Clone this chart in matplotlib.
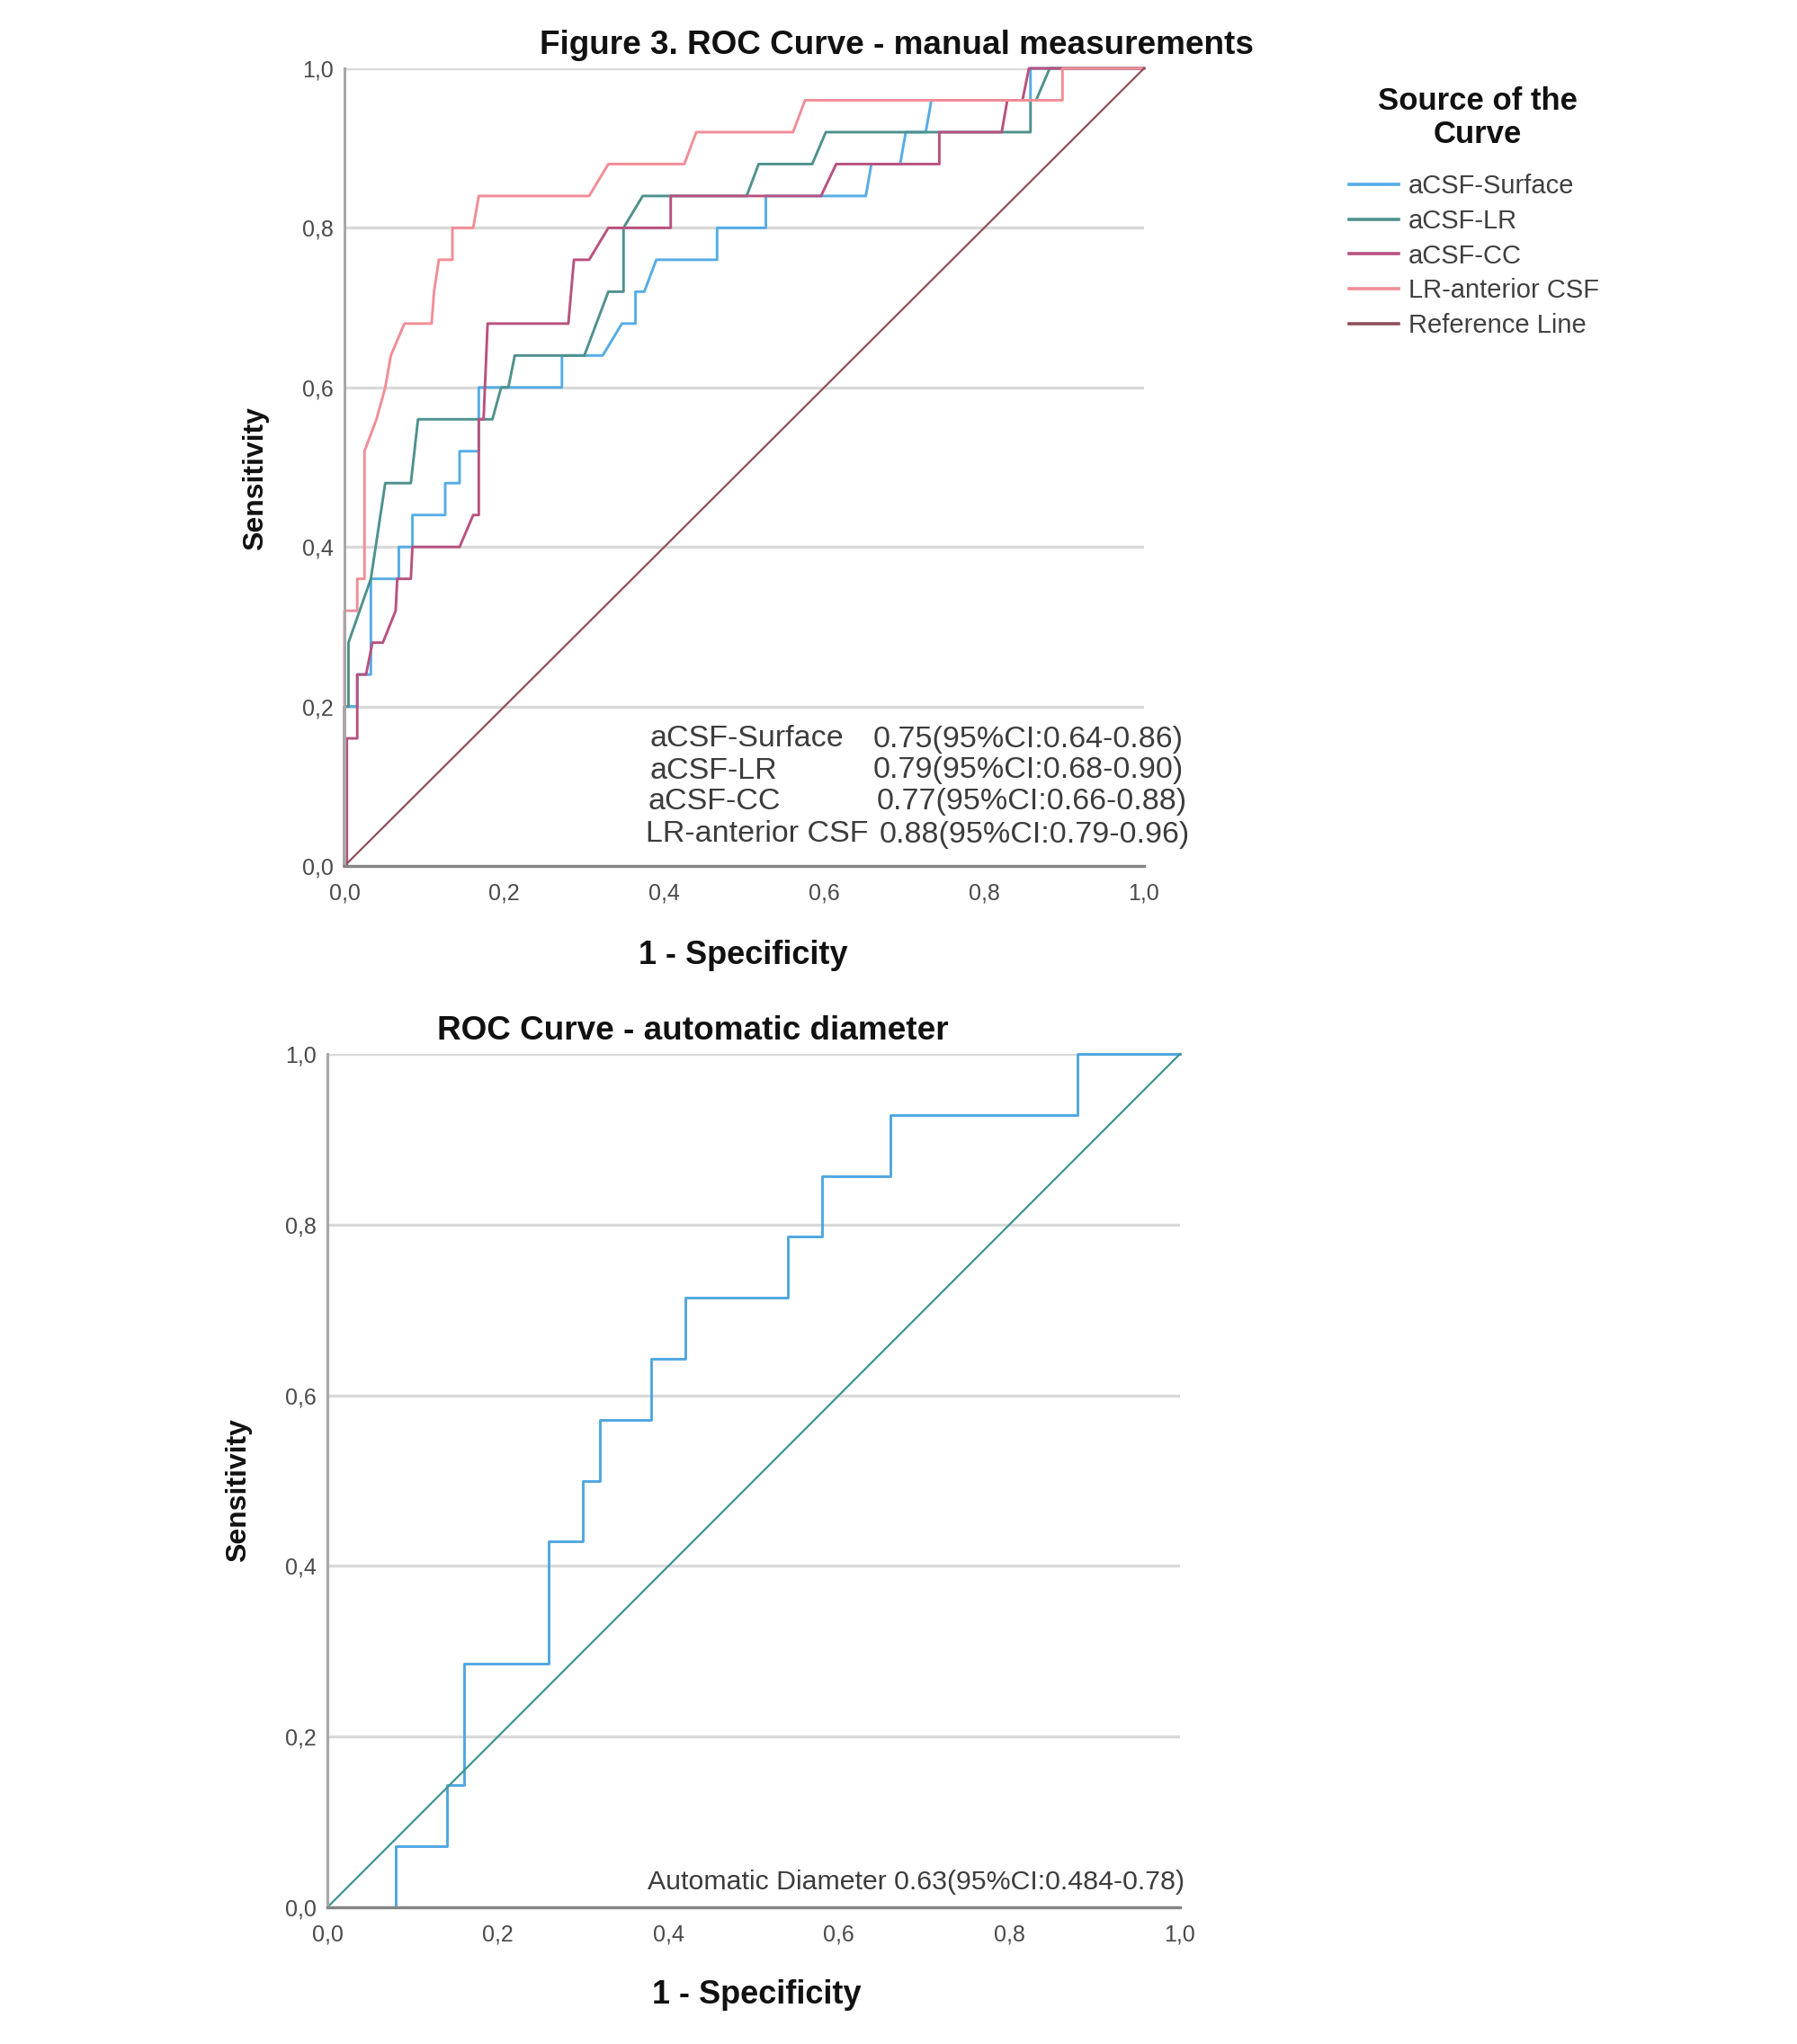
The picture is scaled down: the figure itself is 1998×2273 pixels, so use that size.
import matplotlib.pyplot as plt

W, H, DPI = 1999, 2273, 100
plt.rcParams['font.family'] = ['Liberation Sans', 'DejaVu Sans']

# ---- data ----
tick_vals = [0.0, 0.2, 0.4, 0.6, 0.8, 1.0]
tick_labels = ['0,0', '0,2', '0,4', '0,6', '0,8', '1,0']

# top panel: ROC vertices (1 - specificity, sensitivity)
surface_fpr = [0, 0, 0.016, 0.016, 0.033, 0.033, 0.068, 0.068, 0.085, 0.085, 0.126, 0.126,
               0.144, 0.144, 0.168, 0.168, 0.272, 0.272, 0.323, 0.347, 0.364, 0.364, 0.375,
               0.390, 0.466, 0.466, 0.527, 0.527, 0.652, 0.659, 0.695, 0.702, 0.727, 0.734,
               0.858, 0.858, 1.0]
surface_tpr = [0, 0.20, 0.20, 0.24, 0.24, 0.36, 0.36, 0.40, 0.40, 0.44, 0.44, 0.48,
               0.48, 0.52, 0.52, 0.60, 0.60, 0.64, 0.64, 0.68, 0.68, 0.72, 0.72,
               0.76, 0.76, 0.80, 0.80, 0.84, 0.84, 0.88, 0.88, 0.92, 0.92, 0.96,
               0.96, 1.0, 1.0]

lr_fpr = [0, 0, 0.005, 0.005, 0.033, 0.051, 0.083, 0.092, 0.185, 0.196, 0.205, 0.213, 0.300,
          0.330, 0.349, 0.349, 0.373, 0.503, 0.518, 0.585, 0.602, 0.858, 0.858, 0.865, 0.882, 1.0]
lr_tpr = [0, 0.20, 0.20, 0.28, 0.36, 0.48, 0.48, 0.56, 0.56, 0.60, 0.60, 0.64, 0.64,
          0.72, 0.72, 0.80, 0.84, 0.84, 0.88, 0.88, 0.92, 0.92, 0.96, 0.96, 1.0, 1.0]

cc_fpr = [0, 0.003, 0.003, 0.016, 0.016, 0.027, 0.035, 0.048, 0.064, 0.066, 0.083, 0.085,
          0.144, 0.161, 0.168, 0.168, 0.174, 0.179, 0.280, 0.287, 0.306, 0.330, 0.408,
          0.408, 0.596, 0.615, 0.744, 0.744, 0.822, 0.829, 0.848, 0.856, 1.0]
cc_tpr = [0, 0, 0.16, 0.16, 0.24, 0.24, 0.28, 0.28, 0.32, 0.36, 0.36, 0.40,
          0.40, 0.44, 0.44, 0.56, 0.56, 0.68, 0.68, 0.76, 0.76, 0.80, 0.80,
          0.84, 0.84, 0.88, 0.88, 0.92, 0.92, 0.96, 0.96, 1.0, 1.0]

ant_fpr = [0, 0, 0.016, 0.016, 0.025, 0.025, 0.040, 0.051, 0.058, 0.075, 0.109, 0.112, 0.118,
           0.135, 0.135, 0.161, 0.168, 0.306, 0.330, 0.425, 0.440, 0.561, 0.576, 0.898, 0.898, 1.0]
ant_tpr = [0, 0.32, 0.32, 0.36, 0.36, 0.52, 0.56, 0.60, 0.64, 0.68, 0.68, 0.72, 0.76,
           0.76, 0.80, 0.80, 0.84, 0.84, 0.88, 0.88, 0.92, 0.92, 0.96, 0.96, 1.0, 1.0]

ref_line = [0, 1]

auc_names = ['aCSF-Surface', 'aCSF-LR', 'aCSF-CC', 'LR-anterior CSF']
auc_texts = ['0.75(95%CI:0.64-0.86)', '0.79(95%CI:0.68-0.90)',
             '0.77(95%CI:0.66-0.88)', '0.88(95%CI:0.79-0.96)']

# bottom panel: automatic diameter, step curve (14 positives, 50 negatives)
auto_fpr = [0, 0.08, 0.14, 0.16, 0.26, 0.30, 0.32, 0.38, 0.42, 0.54, 0.58, 0.66, 0.88, 1.0]
auto_pos = [0, 1, 2, 4, 6, 7, 8, 9, 10, 11, 12, 13, 14, 14]
n_pos = 14
auto_text = 'Automatic Diameter 0.63(95%CI:0.484-0.78)'


def px(x, y):
    return x / W, 1 - y / H


def box(l, t, r, b):
    return [l / W, 1 - b / H, (r - l) / W, (b - t) / H]


def style(ax):
    ax.set_xlim(0, 1)
    ax.set_ylim(0, 1)
    ax.set_xticks(tick_vals)
    ax.set_xticklabels(tick_labels)
    ax.set_yticks(tick_vals)
    ax.set_yticklabels(tick_labels)
    for s in ['top', 'right']:
        ax.spines[s].set_visible(False)
    ax.spines['left'].set_color('#a8a8a8')
    ax.spines['left'].set_linewidth(2.2)
    ax.spines['bottom'].set_color('#858585')
    ax.spines['bottom'].set_linewidth(2.4)
    ax.set_axisbelow(True)
    ax.yaxis.grid(True, color='#d9d9d9', lw=2.4)
    ax.tick_params(axis='both', length=0, labelsize=18, labelcolor='#4a4a4a')
    ax.tick_params(axis='x', pad=13)
    ax.tick_params(axis='y', pad=9)


fig = plt.figure(figsize=(W / DPI, H / DPI), dpi=DPI)

# ---------------- top panel ----------------
ax1 = fig.add_axes(box(383, 76, 1272, 963))
style(ax1)
lw = 2.1
h1, = ax1.plot(surface_fpr, surface_tpr, color='#55ace6', lw=lw, clip_on=False)
h2, = ax1.plot(lr_fpr, lr_tpr, color='#4f918d', lw=lw, clip_on=False)
h3, = ax1.plot(cc_fpr, cc_tpr, color='#b8527f', lw=lw, clip_on=False)
h4, = ax1.plot(ant_fpr, ant_tpr, color='#f28d96', lw=lw, clip_on=False)
h5, = ax1.plot(ref_line, ref_line, color='#8f5059', lw=1.6, clip_on=False)

label_x = [723, 723, 721, 718]
value_x = [971, 971, 975, 978]
line_y = [822, 857, 892, 928]
for name, val, lx, vx, ly in zip(auc_names, auc_texts, label_x, value_x, line_y):
    fig.text(*px(lx, ly), name, ha='left', va='center', fontsize=24.5, color='#3c3c3c')
    fig.text(*px(vx, ly), val, ha='left', va='center', fontsize=24.5, color='#3c3c3c')

fig.text(*px(997, 51), 'Figure 3. ROC Curve - manual measurements', ha='center', va='center',
         fontsize=26.6, weight='bold', color='#111111')
fig.text(*px(284, 532), 'Sensitivity', rotation=90, ha='center', va='center',
         fontsize=23, weight='bold', color='#111111')
fig.text(*px(826, 1063), '1 - Specificity', ha='center', va='center',
         fontsize=26, weight='bold', color='#111111')

fig.text(*px(1643, 131), 'Source of the\nCurve', ha='center', va='center', fontsize=25,
         weight='bold', color='#111111', linespacing=1.15, multialignment='center')
leg = ax1.legend([h1, h2, h3, h4, h5], auc_names + ['Reference Line'], loc='upper left',
                 bbox_to_anchor=px(1500, 193), bbox_transform=fig.transFigure,
                 frameon=False, fontsize=21, handlelength=1.9, handletextpad=0.35,
                 labelspacing=0.37, borderpad=0, borderaxespad=0)
for t in leg.get_texts():
    t.set_color('#404040')
for ln in leg.get_lines():
    ln.set_linewidth(2.6)

# ---------------- bottom panel ----------------
ax2 = fig.add_axes(box(364, 1172, 1312, 2121))
style(ax2)
auto_tpr = [k / n_pos for k in auto_pos]
ax2.plot(auto_fpr, auto_tpr, drawstyle='steps-post', color='#4fa7e1', lw=2.1, clip_on=False)
ax2.plot(ref_line, ref_line, color='#3f9490', lw=1.6, clip_on=False)

fig.text(*px(1317, 2093), auto_text, ha='right', va='center', fontsize=21.8, color='#3c3c3c')
fig.text(*px(770, 1147), 'ROC Curve - automatic diameter', ha='center', va='center',
         fontsize=26.6, weight='bold', color='#111111')
fig.text(*px(265, 1657), 'Sensitivity', rotation=90, ha='center', va='center',
         fontsize=23, weight='bold', color='#111111')
fig.text(*px(841, 2219), '1 - Specificity', ha='center', va='center',
         fontsize=26, weight='bold', color='#111111')

fig.savefig('out.png', dpi=DPI)
